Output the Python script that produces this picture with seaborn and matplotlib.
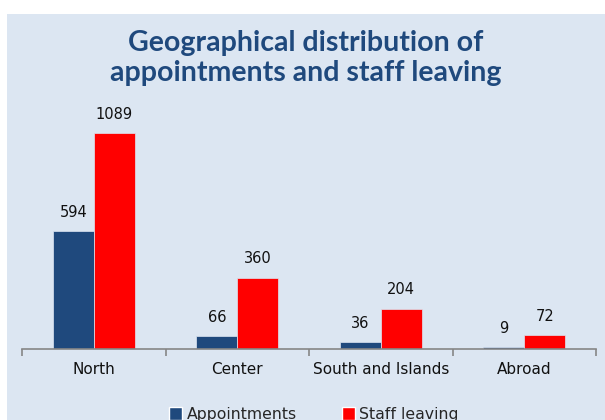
import matplotlib
matplotlib.use("Agg")
import matplotlib.pyplot as plt
from matplotlib.patches import Rectangle, Patch
import seaborn as sns
import pandas as pd

regions = ["North", "Center", "South and Islands", "Abroad"]
appointments = [594, 66, 36, 9]
staff_leaving = [1089, 360, 204, 72]
series = ["Appointments", "Staff leaving"]
colors = ["#1F497D", "#FF0000"]

df = pd.DataFrame({
    "region": regions * 2,
    "count": appointments + staff_leaving,
    "type": [series[0]] * len(regions) + [series[1]] * len(regions),
})

sns.set_theme(style="white")
plt.rcParams['font.family'] = ['DejaVu Sans']

fig = plt.figure(figsize=(6.05, 4.2), dpi=100)
fig.patch.set_facecolor("white")
# light blue chart area
fig.patches.append(Rectangle((7 / 605, 0), 598 / 605, 406 / 420,
                             transform=fig.transFigure, facecolor="#DCE6F2",
                             edgecolor="none", zorder=-5))

ax = fig.add_axes([22 / 605, 71 / 420, 574 / 605, 249 / 420])
ax.set_zorder(2)
ax.set_facecolor("none")

sns.barplot(data=df, x="region", y="count", hue="type", palette=colors,
            saturation=1, width=0.57, ax=ax, legend=False,
            edgecolor="#DCE6F2", linewidth=0.5)

ax.set_ylim(0, 1255)
ax.set_xlim(-0.5, 3.5)
for c in ax.containers:
    ax.bar_label(c, padding=8, fontsize=10.5, color="#111111")

ax.set_xlabel("")
ax.set_ylabel("")
ax.set_yticks([])
for s in ["top", "right", "left"]:
    ax.spines[s].set_visible(False)
ax.spines["bottom"].set_color("#868686")
ax.spines["bottom"].set_linewidth(1.2)
ax.set_xticks([-0.5, 0.5, 1.5, 2.5, 3.5], minor=False)
ax.set_xticklabels([])
ax.set_xticks([0, 1, 2, 3], minor=True)
ax.set_xticklabels(regions, minor=True, fontsize=11, color="#111111")
ax.tick_params(axis="x", which="major", bottom=True, length=5, width=1.2, color="#868686")
ax.tick_params(axis="x", which="minor", bottom=False, pad=5)

fig.text(306 / 605, 1 - 58 / 420, "Geographical distribution of\nappointments and staff leaving",
         ha="center", va="center", fontsize=20.5, fontweight="bold", color="#1F497D",
         family="Lato", linespacing=1.2)

handles = [Patch(facecolor=colors[0]), Patch(facecolor=colors[1])]
fig.legend(handles, series, loc="center", bbox_to_anchor=(314 / 605, 1 - 414 / 420),
           ncol=2, frameon=False, fontsize=11.3, handlelength=0.8, handleheight=0.9,
           handletextpad=0.3, columnspacing=2.9)

fig.savefig("out.png", dpi=100)
